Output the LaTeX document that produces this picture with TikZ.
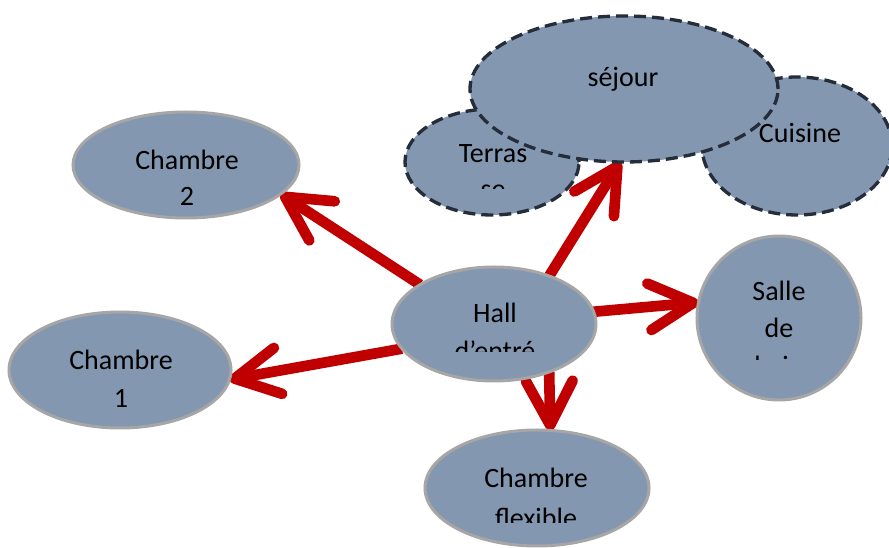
\documentclass[tikz,border=0pt]{standalone}
\usepackage{fontspec}
\setmainfont{Carlito}
\usetikzlibrary{arrows.meta,shapes.geometric,backgrounds}
\definecolor{roomfill}{HTML}{8497B0}
\definecolor{roomline}{HTML}{A6A6A6}
\definecolor{dashline}{HTML}{252D3A}
\definecolor{arrowred}{HTML}{C00000}
\begin{document}
\begin{tikzpicture}[x=0.75pt,y=-0.75pt,
  room/.style={ellipse,fill=roomfill,draw=roomline,line width=2.25pt,inner sep=0pt,outer sep=0pt},
  zone/.style={ellipse,fill=roomfill,draw=dashline,line width=2.5pt,dash pattern=on 9pt off 4.5pt,inner sep=0pt,outer sep=0pt},
  lbl/.style={anchor=base,font=\fontsize{21}{25}\selectfont,inner sep=0pt,text=black},
  link/.style={draw=arrowred,line width=8pt,-{Straight Barb[length=33pt,width=35pt,round]}}]
\useasboundingbox (0,0) rectangle (889,548);

% rooms
\node[room,minimum width=169.5pt,minimum height=79.5pt] (ch2) at (186,165) {};
\node[lbl] (ch2a) at (187,170) {Chambre};
\node[lbl] (ch2b) at (187,206) {2};

\node[room,minimum width=166.5pt,minimum height=87pt] (ch1) at (120,370) {};
\node[lbl] (ch1a) at (121,370) {Chambre};
\node[lbl] (ch1b) at (121,408) {1};

\node[room,minimum width=153pt,minimum height=85.5pt] (hall) at (494,324) {};
\node[lbl] (halla) at (495,323) {Hall};
\begin{scope}
  \clip (400,290) rectangle (590,352);
  \node[lbl] (hallb) at (495,361) {d’entré};
\end{scope}

\node[room,minimum width=123pt,minimum height=123pt] (sal) at (779,318) {};
\node[lbl] (sala) at (779,301) {Salle};
\node[lbl] (salb) at (779,338) {de};
\begin{scope}
  \clip (710,340) rectangle (850,360);
  \node[lbl] (salc) at (779,376) {bain};
\end{scope}

\node[room,minimum width=168pt,minimum height=87pt] (flex) at (537,488) {};
\node[lbl] (flexa) at (536,488) {Chambre};
\begin{scope}
  \clip (440,495) rectangle (640,523);
  \node[lbl] (flexb) at (536,528) {flexible};
\end{scope}

% living zone
\node[zone,minimum width=130.5pt,minimum height=79.5pt] (ter) at (492,162) {};
\node[lbl] (tera) at (493,163) {Terras};
\begin{scope}
  \clip (420,170) rectangle (570,189);
  \node[lbl] (terb) at (493,199) {se};
\end{scope}

\node[zone,minimum width=142.5pt,minimum height=103.5pt] (cui) at (797,146) {};
\node[lbl] (cuia) at (800,143) {Cuisine};

\node[zone,minimum width=231pt,minimum height=109.5pt] (sej) at (624,89) {};
\node[lbl] (seja) at (623,87) {séjour};

% connectors
\begin{scope}[on background layer]
  \fill[white] (0,0) rectangle (889,548);
  \draw[link] (hall.152) -- (ch2.-17);
  \draw[link] (hall.195) -- (ch1.-5);
  \draw[link] (hall.41) -- (sej.-93);
  \draw[link] (hall.7) -- (sal.169);
  \draw[link] (hall.-41) -- (flex.77);
\end{scope}
\end{tikzpicture}
\end{document}
